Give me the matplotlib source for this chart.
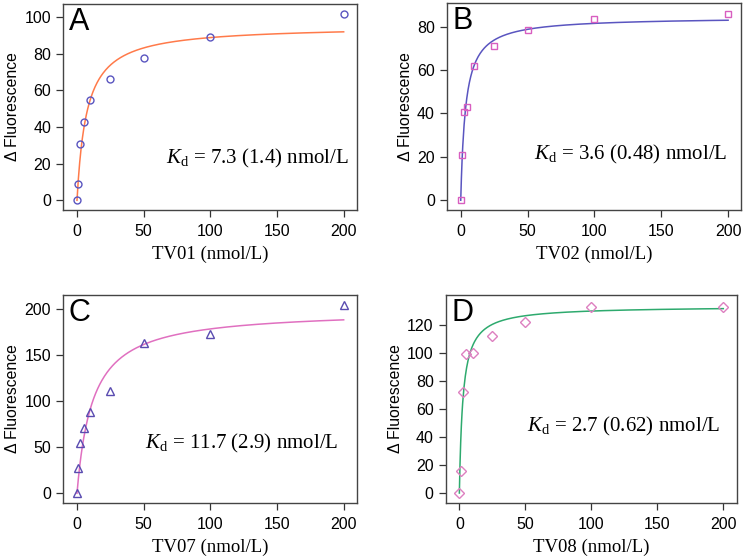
import numpy as np
import matplotlib
matplotlib.use("Agg")
import matplotlib.pyplot as plt

plt.rcParams['font.family'] = ['Liberation Sans', 'DejaVu Sans']
plt.rcParams['mathtext.fontset'] = 'custom'
plt.rcParams['mathtext.rm'] = 'Liberation Serif'
plt.rcParams['mathtext.it'] = 'Liberation Serif:italic'

# 浓度 (nmol/L)
conc = [0, 1, 2.5, 5, 10, 25, 50, 100, 200]

# 各面板的测量值
fl_tv01 = [0, 9, 31, 43, 55, 66, 78, 89, 102]
fl_tv02 = [0, 21, 40.5, 43, 62, 71, 78.5, 83.5, 86]
fl_tv07 = [0, 27, 55, 71, 88, 111, 163, 173, 204]
fl_tv08 = [0, 16, 72, 99, 100, 112, 122, 133, 133]

# 拟合参数 (Kd, Bmax)
kd_vals = [7.3, 3.6, 11.7, 2.7]
bmax_vals = [95.4, 84.5, 199.0, 133.3]
kd_labels = ['7.3 (1.4)', '3.6 (0.48)', '11.7 (2.9)', '2.7 (0.62)']

names = ['TV01', 'TV02', 'TV07', 'TV08']
letters = ['A', 'B', 'C', 'D']
ydata = [fl_tv01, fl_tv02, fl_tv07, fl_tv08]

yticks = [np.arange(0, 101, 20), np.arange(0, 81, 20), np.arange(0, 201, 50), np.arange(0, 121, 20)]
ylims = [(-5.3, 107.3), (-4.5, 90.8), (-10.2, 215), (-6.9, 141.3)]

markers = ['o', 's', '^', 'D']
msizes = [5, 5, 5.5, 5]
mcolors = ['#5a55c0', '#d85ec0', '#5a4cb0', '#dd80c0']
lcolors = ['#ff7a4a', '#5a55c0', '#e070c0', '#2eaa6e']

positions = [
    [0.084, 0.623, 0.392, 0.370],
    [0.5956, 0.623, 0.393, 0.371],
    [0.084, 0.0975, 0.392, 0.373],
    [0.594, 0.0975, 0.388, 0.373],
]
text_pos = [(0.35, 0.228), (0.296, 0.242), (0.279, 0.263), (0.279, 0.342)]

fig = plt.figure(figsize=(7.5, 5.57), dpi=100)

xfit = np.linspace(0, 200, 400)

for i in range(4):
    ax = fig.add_axes(positions[i])
    # 拟合曲线
    yfit = bmax_vals[i] * xfit / (kd_vals[i] + xfit)
    ax.plot(xfit, yfit, '-', color=lcolors[i], lw=1.1)
    # 数据点
    ax.plot(conc, ydata[i], linestyle='none', marker=markers[i], ms=msizes[i],
            mfc='none', mec=mcolors[i], mew=1.0)

    ax.set_xlim(-10.5, 210)
    ax.set_ylim(*ylims[i])
    ax.set_xticks([0, 50, 100, 150, 200])
    ax.set_yticks(yticks[i])
    ax.tick_params(direction='out', length=5, width=0.9, labelsize=11.5, color='#333333')
    ax.tick_params(axis='x', pad=5)
    for s in ax.spines.values():
        s.set_color('#444444')
        s.set_linewidth(1.0)

    ax.set_xlabel(names[i] + ' (nmol/L)', family='Liberation Serif', fontsize=13.5, labelpad=5)
    ax.set_ylabel('\u0394 Fluorescence', fontsize=11.3, labelpad=3)

    ax.text(0.02, 0.985, letters[i], transform=ax.transAxes, ha='left', va='top', fontsize=22)
    ax.text(text_pos[i][0], text_pos[i][1],
            r'$K_{\rm d}$' + ' = ' + kd_labels[i] + ' nmol/L',
            transform=ax.transAxes, ha='left', va='baseline',
            family='Liberation Serif', fontsize=15)

fig.savefig('out.png', dpi=100)
